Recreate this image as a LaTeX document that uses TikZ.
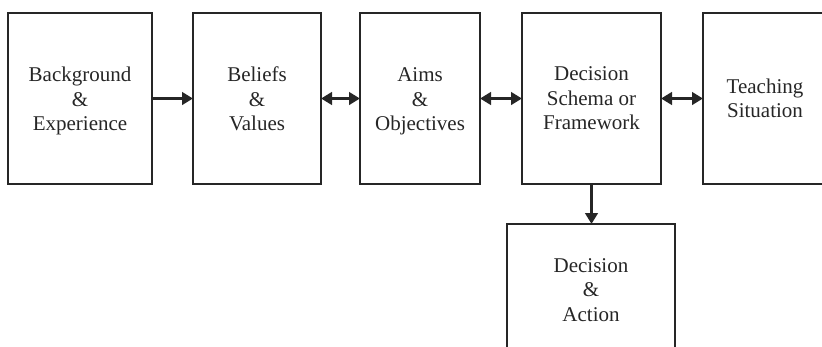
\documentclass[tikz,border=0pt]{standalone}
\usepackage{fontspec}
\setmainfont{Liberation Serif}
\usetikzlibrary{arrows.meta}
\newcommand{\lowtext}[1]{\raisebox{-3pt}[\height][\depth]{\begin{tabular}{@{}c@{}}#1\end{tabular}}}
\begin{document}
\begin{tikzpicture}[x=1pt,y=-1pt,
  box/.style={draw=black!85, line width=2.5pt, rectangle, outer sep=0pt, inner sep=0pt,
    align=center, font=\fontsize{21}{24.5}\selectfont, text=black!85},
  conn/.style={draw=black!85, line width=3.8pt, -{Triangle[length=11pt,width=12.5pt]}},
  bconn/.style={draw=black!85, line width=3.8pt, {Triangle[length=11pt,width=12.5pt]}-{Triangle[length=11pt,width=12.5pt]}}]
\useasboundingbox (0,0) rectangle (822,346);
\clip (0,0) rectangle (822,346);
\node[box, minimum width=144pt, minimum height=171pt] (b1) at (80,98.5) {\lowtext{Background\\\&\\Experience}};
\node[box, minimum width=128pt, minimum height=171pt] (b2) at (257,98.5) {\lowtext{Beliefs\\\&\\Values}};
\node[box, minimum width=120pt, minimum height=171pt] (b3) at (420,98.5) {\lowtext{Aims\\\&\\Objectives}};
\node[box, minimum width=139pt, minimum height=171pt] (b4) at (591.5,98.5) {Decision\\Schema or\\Framework};
\node[box, minimum width=124pt, minimum height=171pt] (b5) at (765,98.5) {Teaching\\Situation};
\node[box, minimum width=168pt, minimum height=132pt] (b6) at (591,290) {Decision\\\&\\Action};
\draw[conn] (b1.east) -- (b2.west);
\draw[bconn] (b2.east) -- (b3.west);
\draw[bconn] (b3.east) -- (b4.west);
\draw[bconn] (b4.east) -- (b5.west);
\draw[conn] (b4.south) -- (b4.south |- b6.north);
\end{tikzpicture}
\end{document}
